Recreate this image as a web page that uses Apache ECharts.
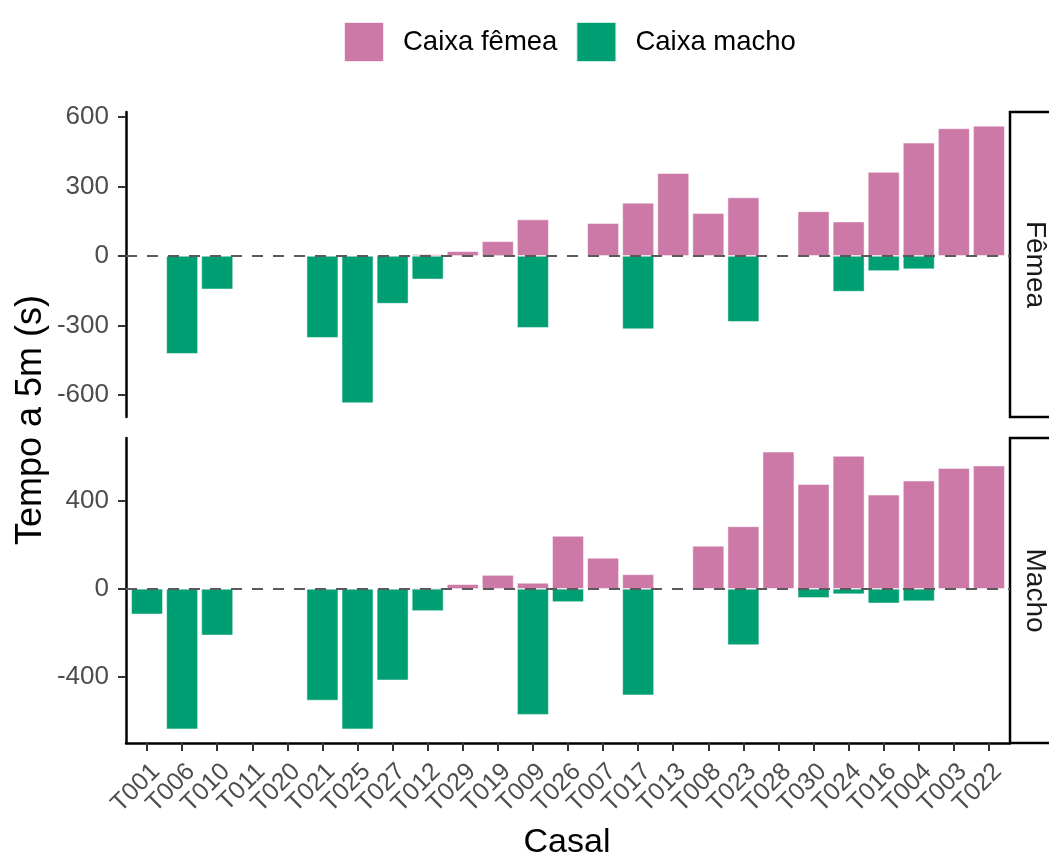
<!DOCTYPE html>
<html>
<head>
<meta charset="utf-8">
<script src="https://cdn.jsdelivr.net/npm/echarts@6/dist/echarts.min.js"></script>
<style>
html,body{margin:0;padding:0;background:#fff;}
#chart{width:1049px;height:857px;}
</style>
</head>
<body>
<div id="chart"></div>
<script>
// ---- data ----
const categories = ['T001','T006','T010','T011','T020','T021','T025','T027','T012','T029','T019','T009','T026','T007','T017','T013','T008','T023','T028','T030','T024','T016','T004','T003','T022'];
const seriesNames = ['Caixa fêmea', 'Caixa macho'];
const panelNames = ['Fêmea', 'Macho'];
// Panel "Fêmea"
const femeaCaixaFemea = [null,null,null,null,null,null,null,null,7,20,63,157,null,141,229,357,184,252,null,192,148,362,488,550,561];
const femeaCaixaMacho = [null,-422,-144,null,null,-353,-635,-206,-101,null,null,-310,null,null,-316,null,null,-284,null,null,-154,-65,-57,null,null];
// Panel "Macho"
const machoCaixaFemea = [null,null,null,null,null,null,null,null,5,21,63,27,241,141,66,null,196,285,625,477,606,429,493,550,562];
const machoCaixaMacho = [-116,-640,-212,null,null,-509,-640,-417,-101,null,null,-574,-60,null,-485,null,null,-256,null,-41,-24,-66,-56,null,null];
const femeaTicks = [-600,-300,0,300,600];
const machoTicks = [-400,0,400];

// ---- chart ----
const FONT = 'Liberation Sans, Arial, Helvetica, sans-serif';
const PINK = '#CC79A7', GREEN = '#009E73';
const chart = echarts.init(document.getElementById('chart'), null, {renderer:'canvas'});
const idx = categories.map((c,i)=>i);
const toXY = arr => arr.map((v,i)=>[i, v]).filter(d => d[1] !== null);

const gridL = 126, gridR = 1049 - 1010;
const grids = [
  {left: gridL, right: gridR, top: 112, height: 305},
  {left: gridL, right: gridR, top: 438, height: 305}
];

function xAxis(gi, show){
  return {
    type:'value', gridIndex: gi, min: -0.6, max: categories.length - 0.4,
    show: show,
    splitLine:{show:false},
    axisLine:{show:show, onZero:false, lineStyle:{color:'#000', width:2.5}},
    axisTick:{show:show, customValues: idx, length:8, lineStyle:{color:'#333', width:2}},
    axisLabel:{show:show, customValues: idx, formatter: v => categories[Math.round(v)] || '',
      showMinLabel:true, showMaxLabel:true, hideOverlap:false,
      rotate:45, align:'right', verticalAlign:'top', color:'#4d4d4d', fontSize:25, fontFamily:FONT, margin:16}
  };
}
function yAxis(gi, min, max, ticks){
  return {
    type:'value', gridIndex: gi, min: min, max: max,
    splitLine:{show:false},
    axisLine:{show:true, onZero:false, lineStyle:{color:'#000', width:2.5}},
    axisTick:{show:true, customValues: ticks, length:8, lineStyle:{color:'#333', width:2}},
    axisLabel:{customValues: ticks, showMinLabel:true, showMaxLabel:true,
      color:'#4d4d4d', fontSize:26, fontFamily:FONT, margin:17}
  };
}
function barSeries(name, data, gi, color, withLine){
  const s = {
    name: name, type:'bar', xAxisIndex: gi, yAxisIndex: gi,
    data: toXY(data), barWidth: 31.6, barGap:'-100%',
    itemStyle:{color: color, borderColor:'rgba(255,255,255,0.8)', borderWidth:0.6},
    emphasis:{disabled:true}, animation:false
  };
  if (withLine) {
    s.markLine = {
      silent:true, symbol:'none', label:{show:false}, animation:false,
      lineStyle:{color:'#5a5a5a', type:[11,10], width:2.2},
      data:[{yAxis:0}]
    };
    s.z = 3;
  }
  return s;
}

const option = {
  backgroundColor:'#fff',
  animation:false,
  textStyle:{fontFamily:FONT},
  legend:{
    data: seriesNames, left: 338, top: 16, itemWidth: 40, itemHeight: 40, itemGap: 18,
    icon:'rect', selectedMode:false,
    textStyle:{fontSize:27.5, color:'#000', fontFamily:FONT, padding:[0,0,0,14]}
  },
  grid: grids,
  xAxis: [xAxis(0,false), xAxis(1,true)],
  yAxis: [yAxis(0,-695,621,femeaTicks), yAxis(1,-703,688,machoTicks)],
  series: [
    barSeries(seriesNames[0], femeaCaixaFemea, 0, PINK, false),
    barSeries(seriesNames[1], femeaCaixaMacho, 0, GREEN, true),
    barSeries(seriesNames[0], machoCaixaFemea, 1, PINK, false),
    barSeries(seriesNames[1], machoCaixaMacho, 1, GREEN, true)
  ],
  graphic: [
    {type:'rect', shape:{x:1010, y:112, width:80, height:305}, style:{fill:'#fff', stroke:'#000', lineWidth:2.5}},
    {type:'rect', shape:{x:1010, y:438, width:80, height:305}, style:{fill:'#fff', stroke:'#000', lineWidth:2.5}},
    {type:'text', x:1035, y:264.5, rotation:-Math.PI/2,
      style:{text:panelNames[0], font:'28px '+FONT, fill:'#1a1a1a', textAlign:'center', textVerticalAlign:'middle'}},
    {type:'text', x:1035, y:590.5, rotation:-Math.PI/2,
      style:{text:panelNames[1], font:'28px '+FONT, fill:'#1a1a1a', textAlign:'center', textVerticalAlign:'middle'}},
    {type:'text', x:31, y:420, rotation:Math.PI/2,
      style:{text:'Tempo a 5m (s)', font:'36px '+FONT, fill:'#000', textAlign:'center', textVerticalAlign:'middle'}},
    {type:'text', x:567, y:843, 
      style:{text:'Casal', font:'34px '+FONT, fill:'#000', textAlign:'center', textVerticalAlign:'middle'}}
  ]
};
chart.setOption(option);
</script>
</body>
</html>
